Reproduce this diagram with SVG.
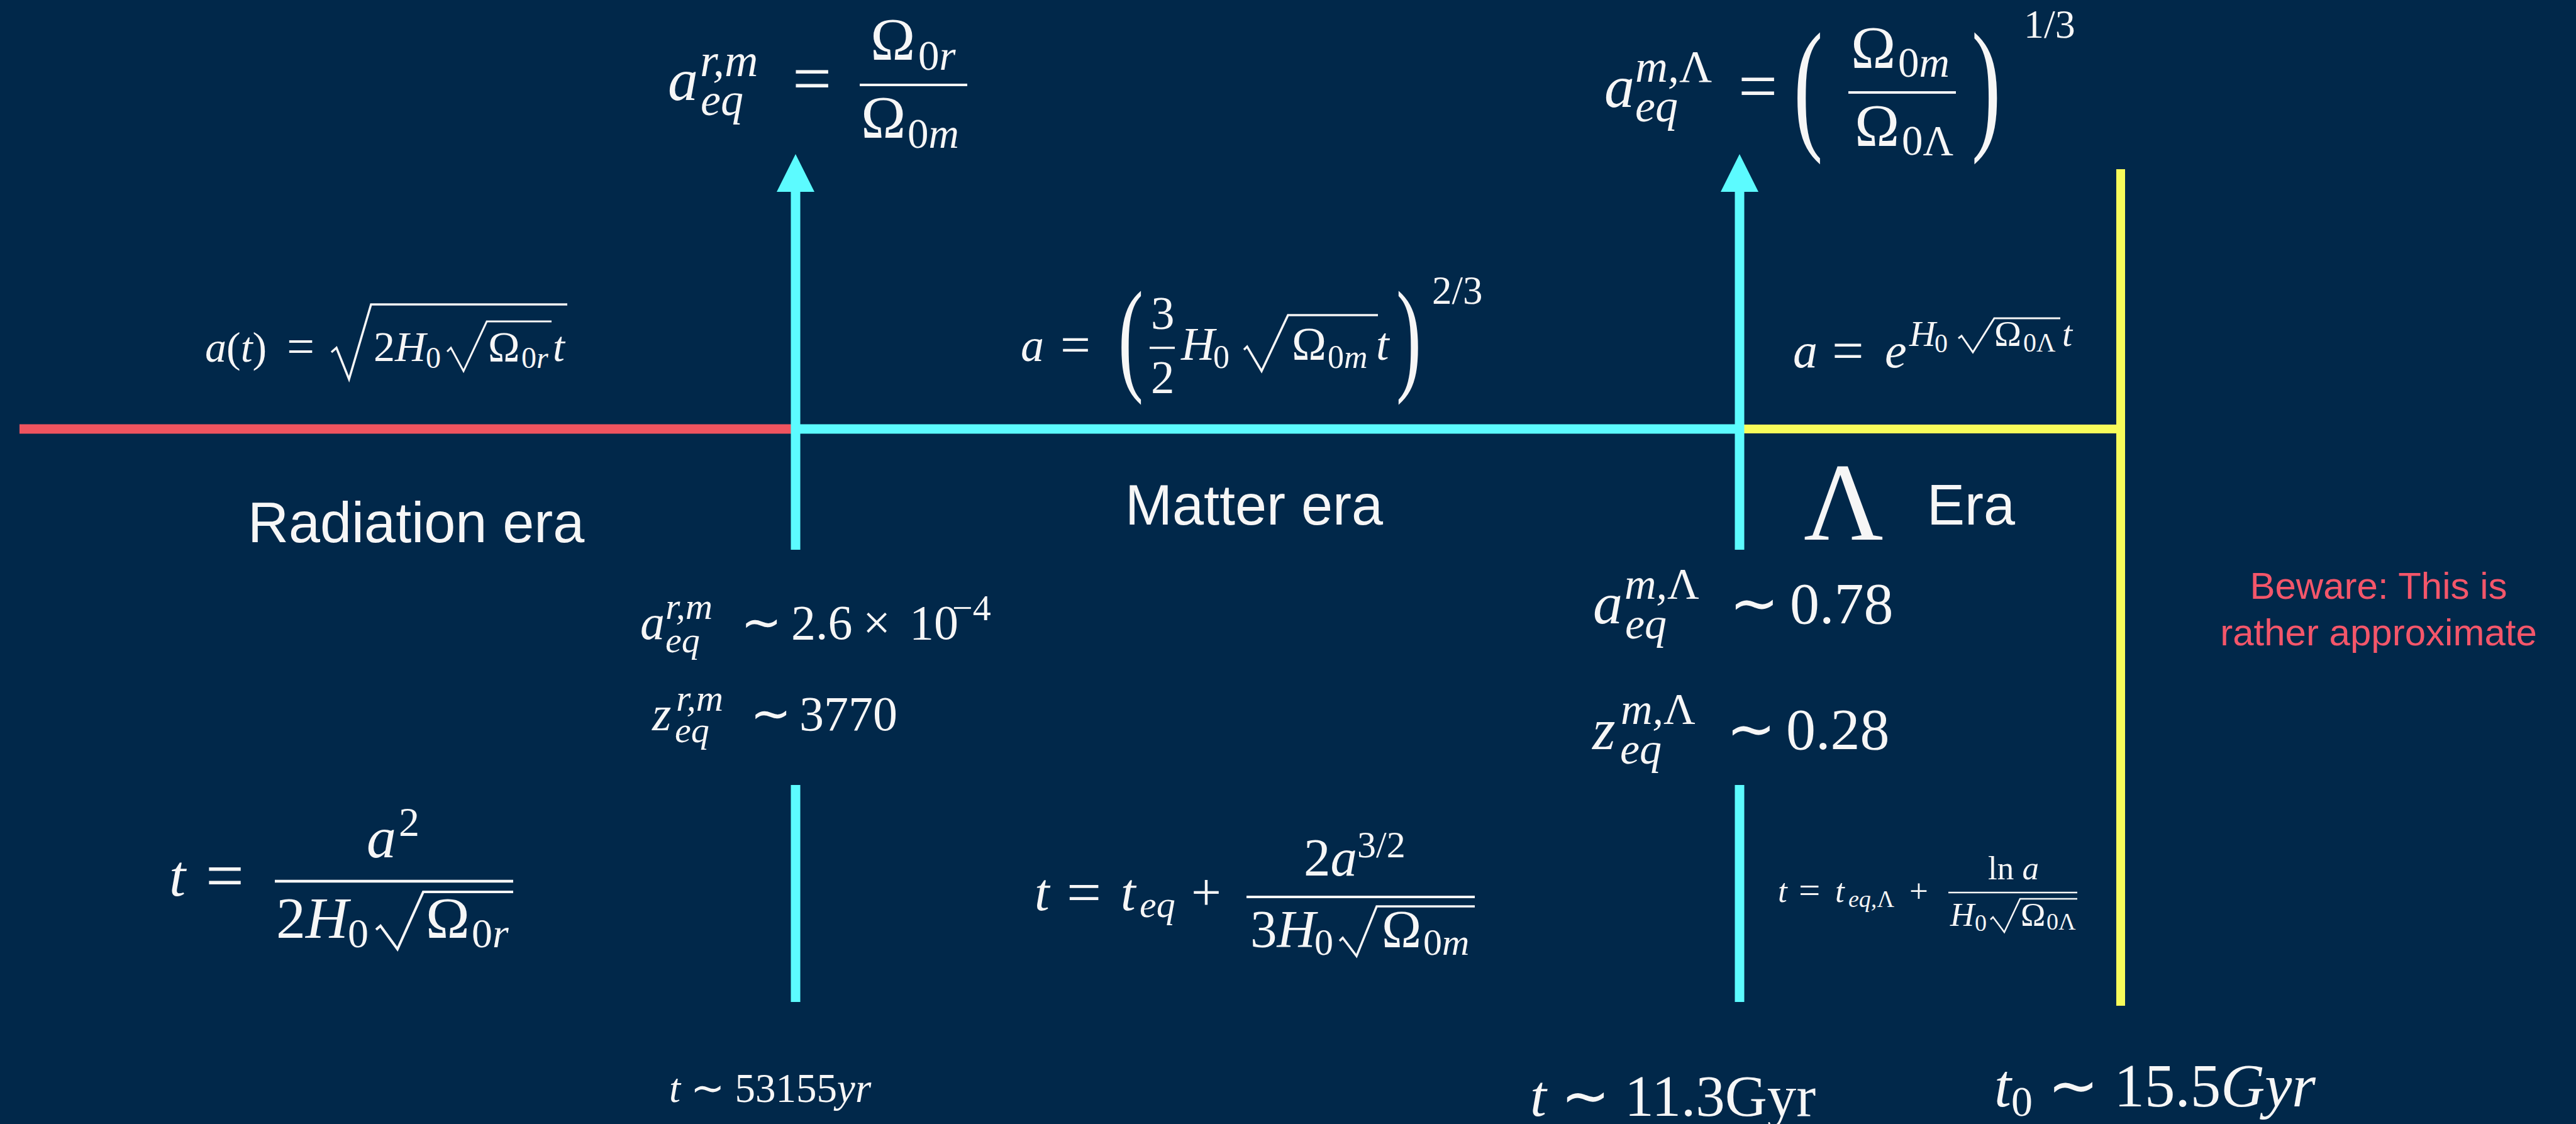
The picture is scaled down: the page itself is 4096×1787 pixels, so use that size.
<svg xmlns="http://www.w3.org/2000/svg" width="4096" height="1787" viewBox="0 0 4096 1787">
<defs>
<style>
.m{font-family:"Liberation Serif","Times New Roman",serif;fill:#f6f6f6}
.i{font-style:italic}
.q{font-size:1.15em}
.s{font-family:"Liberation Sans",Arial,sans-serif;fill:#f6f6f6}
.warn{font-family:"Liberation Sans",Arial,sans-serif;fill:#f4566a;font-size:60px;text-anchor:middle}
.bar{stroke:#f6f6f6;fill:none}
.rad{stroke:#f6f6f6;fill:none;stroke-linejoin:miter;stroke-linecap:butt}
.cy{stroke:#5cfbff;stroke-width:15;fill:none}
.ye{stroke:#f8fc5a;stroke-width:14;fill:none}
.rd{stroke:#f0545f;stroke-width:15;fill:none}
</style>
<marker id="head" viewBox="0 0 60 60" refX="0" refY="30" markerWidth="60" markerHeight="60" markerUnits="userSpaceOnUse" orient="auto">
<path d="M0,0 L60,30 L0,60 z" fill="#5cfbff"/>
</marker>
</defs>
<rect width="4096" height="1787" fill="#01284a"/>

<g id="connectors">
<line class="rd" x1="31" y1="682" x2="1265" y2="682"/>
<line class="cy" x1="1265" y1="682" x2="2773" y2="682"/>
<line class="ye" x1="2773" y1="682" x2="3372" y2="682"/>
<line class="cy" x1="1265" y1="874" x2="1265" y2="305" marker-end="url(#head)"/>
<line class="cy" x1="1265" y1="1248" x2="1265" y2="1593"/>
<line class="cy" x1="2766" y1="874" x2="2766" y2="305" marker-end="url(#head)"/>
<line class="cy" x1="2766" y1="1248" x2="2766" y2="1593"/>
<line class="ye" x1="3372" y1="269" x2="3372" y2="1599"/>
</g>

<g id="aeq-rm-def">
<text class="m" font-size="96"><tspan class="i" x="1062" y="159">a</tspan><tspan class="i" x="1113" y="121" font-size="74">r,m</tspan><tspan class="i" x="1114" y="183" font-size="72">eq</tspan><tspan class="q" x="1260" y="162">=</tspan><tspan x="1384" y="95">Ω</tspan><tspan x="1460" y="111" font-size="67">0</tspan><tspan class="i" font-size="67">r</tspan><tspan x="1369" y="219">Ω</tspan><tspan x="1443" y="235" font-size="67">0</tspan><tspan class="i" font-size="67">m</tspan></text>
<line class="bar" stroke-width="4" x1="1367" y1="135" x2="1538" y2="135"/>
</g>

<g id="aeq-mL-def">
<text class="m" font-size="96"><tspan class="i" x="2551" y="170">a</tspan><tspan class="i" x="2600" y="130" font-size="72">m,</tspan><tspan font-size="72">Λ</tspan><tspan class="i" x="2600" y="193" font-size="72">eq</tspan><tspan class="q" x="2764" y="174">=</tspan><tspan x="2943" y="108">Ω</tspan><tspan x="3018" y="122" font-size="67">0</tspan><tspan class="i" font-size="67">m</tspan><tspan x="2949" y="232">Ω</tspan><tspan x="3024" y="246" font-size="67">0Λ</tspan><tspan x="3218" y="60" font-size="64">1/3</tspan></text>
<text class="m" font-size="232" transform="translate(2852,212) scale(0.6,1)">(</text>
<text class="m" font-size="232" transform="translate(3135,212) scale(0.6,1)">)</text>
<line class="bar" stroke-width="4" x1="2939" y1="147" x2="3110" y2="147"/>
</g>

<g id="radiation-a">
<text class="m" font-size="68"><tspan class="i" x="326" y="575">a</tspan><tspan>(</tspan><tspan class="i">t</tspan><tspan>)</tspan><tspan class="q" x="456" y="577">=</tspan><tspan x="594" y="574">2</tspan><tspan class="i">H</tspan><tspan font-size="48" y="585">0</tspan><tspan x="776" y="574">Ω</tspan><tspan x="829" y="585" font-size="48">0</tspan><tspan class="i" font-size="48">r</tspan><tspan class="i" x="879" y="574">t</tspan></text>
<polyline class="rad" stroke-width="3.5" points="527,560 535,553 555,603 590,484 902,484"/>
<polyline class="rad" stroke-width="3" points="711,559 717,553 737,590 774,511 877,511"/>
</g>

<g id="matter-a">
<text class="m" font-size="74"><tspan class="i" x="1623" y="574">a</tspan><tspan class="q" x="1686" y="577">=</tspan><tspan x="1830" y="523" font-size="75">3</tspan><tspan x="1830" y="625" font-size="75">2</tspan><tspan class="i" x="1878" y="572">H</tspan><tspan x="1929" y="585" font-size="52">0</tspan><tspan x="2054" y="572">Ω</tspan><tspan x="2111" y="585" font-size="52">0</tspan><tspan class="i" font-size="52">m</tspan><tspan class="i" x="2188" y="572">t</tspan><tspan x="2277" y="483" font-size="63">2/3</tspan></text>
<text class="m" font-size="200" transform="translate(1778,601) scale(0.6,1)">(</text>
<text class="m" font-size="200" transform="translate(2220,601) scale(0.6,1)">)</text>
<line class="bar" stroke-width="3.5" x1="1828" y1="553" x2="1868" y2="553"/>
<polyline class="rad" stroke-width="3.5" points="1978,556 1983,551 2006,590 2048,501 2191,501"/>
</g>

<g id="lambda-a">
<text class="m" font-size="78"><tspan class="i" x="2851" y="584">a</tspan><tspan class="q" x="2913" y="587">=</tspan><tspan class="i" x="2997" y="584">e</tspan><tspan class="i" x="3036" y="550" font-size="58">H</tspan><tspan x="3076" y="560" font-size="42">0</tspan><tspan x="3171" y="550" font-size="58">Ω</tspan><tspan x="3217" y="559" font-size="42">0Λ</tspan><tspan class="i" x="3279" y="550" font-size="58">t</tspan></text>
<polyline class="rad" stroke-width="3" points="3114,538 3119,534 3137,560 3171,506 3276,506"/>
</g>

<g id="label-radiation"><text class="s" x="394" y="862" font-size="90">Radiation era</text></g>
<g id="label-matter"><text class="s" x="1789" y="834" font-size="90">Matter era</text></g>
<g id="label-lambda"><text class="m" x="2868" y="858" font-size="175">Λ</text><text class="s" x="3064" y="834" font-size="90">Era</text></g>

<g id="aeq-rm-val">
<text class="m" font-size="78"><tspan class="i" x="1018" y="1016">a</tspan><tspan class="i" x="1058" y="984" font-size="60">r,m</tspan><tspan class="i" x="1058" y="1037" font-size="58">eq</tspan><tspan x="1178" y="1016">∼</tspan><tspan x="1258" y="1016">2.6</tspan><tspan x="1372" y="1016">×</tspan><tspan x="1446" y="1016">10</tspan><tspan x="1514" y="986" font-size="58">−4</tspan></text>
</g>
<g id="zeq-rm-val">
<text class="m" font-size="78"><tspan class="i" x="1037" y="1161">z</tspan><tspan class="i" x="1075" y="1130" font-size="60">r,m</tspan><tspan class="i" x="1073" y="1180" font-size="58">eq</tspan><tspan x="1193" y="1161">∼</tspan><tspan x="1271" y="1161">3770</tspan></text>
</g>
<g id="aeq-mL-val">
<text class="m" font-size="94"><tspan class="i" x="2533" y="991">a</tspan><tspan class="i" x="2583" y="952" font-size="70">m,</tspan><tspan font-size="70">Λ</tspan><tspan class="i" x="2584" y="1015" font-size="70">eq</tspan><tspan x="2750" y="991">∼</tspan><tspan x="2846" y="991">0.78</tspan></text>
</g>
<g id="zeq-mL-val">
<text class="m" font-size="94"><tspan class="i" x="2532" y="1191">z</tspan><tspan class="i" x="2577" y="1151" font-size="70">m,</tspan><tspan font-size="70">Λ</tspan><tspan class="i" x="2576" y="1214" font-size="70">eq</tspan><tspan x="2745" y="1191">∼</tspan><tspan x="2840" y="1191">0.28</tspan></text>
</g>

<g id="warning">
<text class="warn" x="3782" y="952">Beware: This is</text>
<text class="warn" x="3782" y="1026">rather approximate</text>
</g>

<g id="radiation-t">
<text class="m" font-size="94"><tspan class="i" x="269" y="1424">t</tspan><tspan class="q" x="327" y="1428">=</tspan><tspan class="i" x="583" y="1363">a</tspan><tspan x="634" y="1329" font-size="66">2</tspan><tspan x="439" y="1491">2</tspan><tspan class="i" x="486" y="1491">H</tspan><tspan x="553" y="1506" font-size="66">0</tspan><tspan x="677" y="1491">Ω</tspan><tspan x="750" y="1506" font-size="66">0</tspan><tspan class="i" font-size="66">r</tspan></text>
<line class="bar" stroke-width="4.5" x1="437" y1="1401" x2="816" y2="1401"/>
<polyline class="rad" stroke-width="4" points="598,1478 605,1472 632,1509 673,1418 816,1418"/>
</g>

<g id="matter-t">
<text class="m" font-size="85"><tspan class="i" x="1645" y="1447">t</tspan><tspan class="q" x="1696" y="1451">=</tspan><tspan class="i" x="1782" y="1447">t</tspan><tspan class="i" x="1812" y="1458" font-size="60">eq</tspan><tspan x="1894" y="1447">+</tspan><tspan x="2073" y="1392">2</tspan><tspan class="i">a</tspan><tspan x="2158" y="1363" font-size="60">3/2</tspan><tspan x="1988" y="1506">3</tspan><tspan class="i">H</tspan><tspan x="2090" y="1518" font-size="60">0</tspan><tspan x="2197" y="1506">Ω</tspan><tspan x="2263" y="1518" font-size="60">0</tspan><tspan class="i" font-size="60">m</tspan></text>
<line class="bar" stroke-width="4" x1="1982" y1="1426" x2="2345" y2="1426"/>
<polyline class="rad" stroke-width="3.5" points="2130,1496 2135,1491 2157,1520 2189,1441 2345,1441"/>
</g>

<g id="lambda-t">
<text class="m" font-size="53"><tspan class="i" x="2827" y="1434">t</tspan><tspan class="q" x="2860" y="1436">=</tspan><tspan class="i" x="2918" y="1434">t</tspan><tspan class="i" x="2939" y="1442" font-size="38">eq,</tspan><tspan font-size="38">Λ</tspan><tspan x="3036" y="1434">+</tspan><tspan x="3161" y="1398">ln </tspan><tspan class="i">a</tspan><tspan class="i" x="3101" y="1472">H</tspan><tspan x="3140" y="1480" font-size="38">0</tspan><tspan x="3213" y="1472">Ω</tspan><tspan x="3254" y="1478" font-size="38">0Λ</tspan></text>
<line class="bar" stroke-width="2.5" x1="3098" y1="1419" x2="3303" y2="1419"/>
<polyline class="rad" stroke-width="2.5" points="3165,1462 3169,1458 3187,1482 3212,1429 3303,1429"/>
</g>

<g id="time-rm">
<text class="m" font-size="65" x="1064" y="1752"><tspan class="i">t</tspan> ∼ 53155<tspan class="i">yr</tspan></text>
</g>
<g id="time-mL">
<text class="m" font-size="93" x="2433" y="1774"><tspan class="i">t</tspan> ∼ 11.3Gyr</text>
</g>
<g id="time-now">
<text class="m" font-size="97"><tspan class="i" x="3171" y="1759">t</tspan><tspan font-size="68" y="1774">0</tspan><tspan y="1759"> ∼ 15.5</tspan><tspan class="i">Gyr</tspan></text>
</g>
</svg>
